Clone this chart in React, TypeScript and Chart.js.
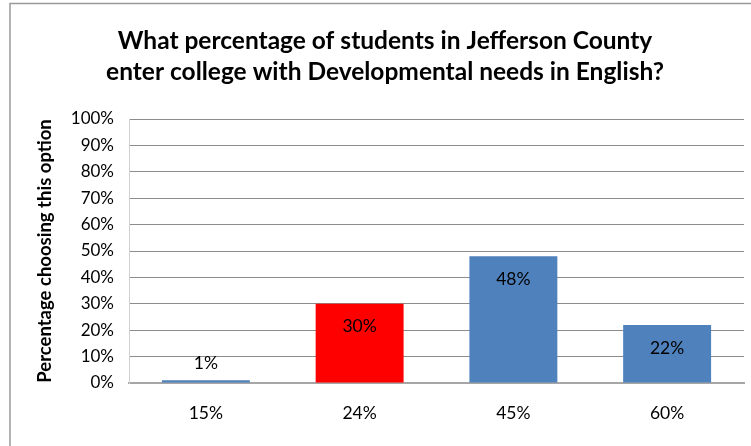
import React, { useEffect, useRef } from "react";
import { Chart, registerables } from "chart.js";

Chart.register(...registerables);

const categories = ["15%", "24%", "45%", "60%"];
const values = [1, 30, 48, 22];
const barColors = ["#4F81BD", "#FF0000", "#4F81BD", "#4F81BD"];
const titleLines = [
  "What percentage of students in Jefferson County",
  "enter college with Developmental needs in English?",
];
const yAxisTitle = "Percentage choosing this option";

const FONT = "Lato";

const framePlugin = {
  id: "frame",
  beforeDraw(chart: any) {
    const ctx = chart.ctx;
    ctx.save();
    ctx.fillStyle = "#ffffff";
    ctx.fillRect(0, 0, chart.width, chart.height);
    ctx.strokeStyle = "#9a9a9a";
    ctx.lineWidth = 1.5;
    ctx.strokeRect(10, 3.5, chart.width + 50, chart.height + 50);
    ctx.restore();
  },
};

const labelPlugin = {
  id: "barLabels",
  afterDatasetsDraw(chart: any) {
    const ctx = chart.ctx;
    const meta = chart.getDatasetMeta(0);
    ctx.save();
    ctx.font = `17.5px ${FONT}`;
    ctx.fillStyle = "#000000";
    ctx.textAlign = "center";
    ctx.textBaseline = "middle";
    meta.data.forEach((bar: any, i: number) => {
      const v = values[i];
      const y = v < 5 ? bar.y - 17 : bar.y + 23;
      ctx.fillText(v + "%", bar.x, y);
    });
    ctx.restore();
  },
};

export default function App() {
  const ref = useRef<HTMLCanvasElement>(null);
  useEffect(() => {
    document.body.style.margin = "0";
    const chart = new Chart(ref.current!, {
      type: "bar",
      data: {
        labels: categories,
        datasets: [
          {
            data: values,
            backgroundColor: barColors,
            borderWidth: 0,
            barPercentage: 0.572,
            categoryPercentage: 1,
          },
        ],
      },
      options: {
        responsive: false,
        animation: false,
        layout: { padding: { left: 26, right: 7, top: 0, bottom: 2 } },
        plugins: {
          legend: { display: false },
          tooltip: { enabled: false },
          title: {
            display: true,
            text: titleLines,
            color: "#000000",
            font: { family: FONT, size: 24.5, weight: "bold", lineHeight: 31 / 24.5 },
            padding: { top: 26, bottom: 31 },
          },
        },
        scales: {
          x: {
            grid: { display: false, drawTicks: false },
            border: { display: true, color: "#a6a6a6", width: 2 },
            ticks: {
              color: "#000000",
              font: { family: FONT, size: 17.5 },
              padding: 20,
            },
          },
          y: {
            min: 0,
            max: 100,
            afterFit: (scale: any) => {
              scale.width = 103;
            },
            grid: { color: "#8c8c8c", drawTicks: false },
            border: { display: true, color: "#d0d0d0", width: 1 },
            ticks: {
              stepSize: 10,
              color: "#000000",
              font: { family: FONT, size: 17 },
              padding: 15,
              callback: (v: any) => v + "%",
            },
            title: {
              display: true,
              text: yAxisTitle,
              color: "#000000",
              font: { family: FONT, size: 18.5, weight: "bold" },
              padding: { top: 8, bottom: 0 },
            },
          },
        },
      },
      plugins: [framePlugin, labelPlugin],
    });
    return () => chart.destroy();
  }, []);
  return (
    <div style={{ width: 751, height: 446 }}>
      <canvas ref={ref} width={751} height={446} />
    </div>
  );
}
